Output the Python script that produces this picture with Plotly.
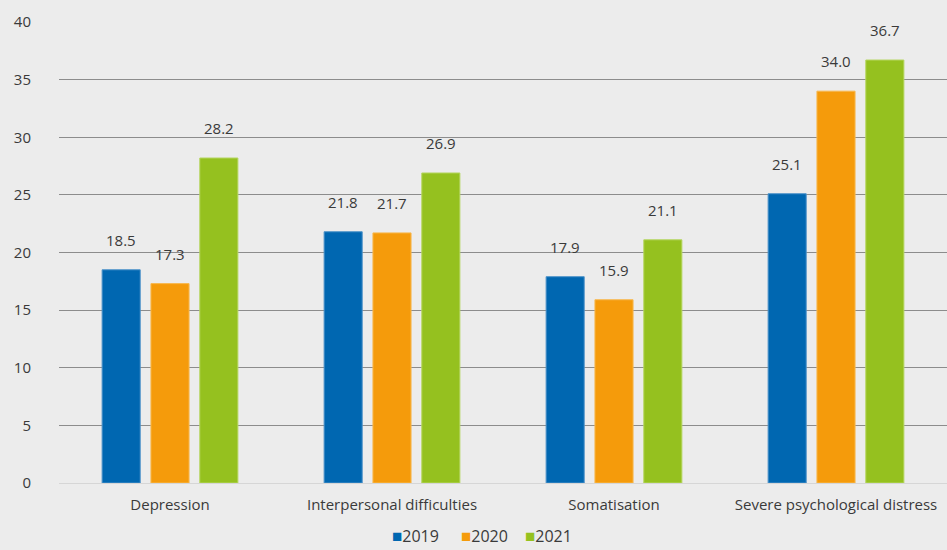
import plotly.graph_objects as go

categories = ["Depression", "Interpersonal difficulties", "Somatisation", "Severe psychological distress"]
years = ["2019", "2020", "2021"]
values_2019 = [18.5, 21.8, 17.9, 25.1]
values_2020 = [17.3, 21.7, 15.9, 34.0]
values_2021 = [28.2, 26.9, 21.1, 36.7]
y_ticks = [0, 5, 10, 15, 20, 25, 30, 35, 40]

colors = ["#0067b1", "#f59b0b", "#95c11f"]
edges = ["#4d93c9", "#f8b84f", "#b5d660"]
series = [values_2019, values_2020, values_2021]

bargap = 0.34
bargroupgap = 0.22
slot = (1 - bargap) / len(series)
text_color = "#3a3a3a"
font_family = "Open Sans, Noto Sans, sans-serif"

fig = go.Figure()
annotations = []
for k, (name, vals, col, edge) in enumerate(zip(years, series, colors, edges)):
    fig.add_trace(go.Bar(
        x=categories, y=vals, name=name,
        marker=dict(color=col, line=dict(color=edge, width=1)),
        showlegend=False,
    ))
    # value labels above each bar
    offset = (k - (len(series) - 1) / 2) * slot
    for i, v in enumerate(vals):
        annotations.append(dict(
            x=i + offset, y=v, xref="x", yref="y", text=f"{v:.1f}",
            showarrow=False, yanchor="middle", yshift=30,
            font=dict(size=15, color=text_color, family=font_family),
        ))

# legend row: one coloured square + year per item, evenly spaced under the plot
legend_x = [0.4015, 0.479, 0.5512]
for x, y, c in zip(legend_x, years, colors):
    annotations.append(dict(
        x=x, y=-0.113, xref="paper", yref="paper",
        text=f"<span style='color:{c};font-size:17px'>■</span>{y}",
        showarrow=False, xanchor="center", yanchor="middle",
        font=dict(size=16, color=text_color, family=font_family),
    ))

bg = "#ececec"
fig.update_layout(
    width=947, height=550,
    margin=dict(l=59, r=0, t=22, b=67),
    paper_bgcolor=bg, plot_bgcolor=bg,
    font=dict(family=font_family, size=15, color=text_color),
    barmode="group", bargap=bargap, bargroupgap=bargroupgap,
    showlegend=False,
    annotations=annotations,
)
fig.update_xaxes(showgrid=False, showline=False, ticks="outside", ticklen=8, tickcolor=bg,
                 tickfont=dict(size=15, color=text_color), automargin=False)
fig.update_yaxes(range=[0, 40], tickvals=y_ticks, showgrid=True, gridcolor="#8c8c8c", gridwidth=1,
                 zeroline=True, zerolinecolor="#d6d6d6", zerolinewidth=1,
                 ticks="outside", ticklen=24, tickcolor=bg, automargin=False,
                 tickfont=dict(size=15, color=text_color), showline=False)

fig.write_html("out.html")
